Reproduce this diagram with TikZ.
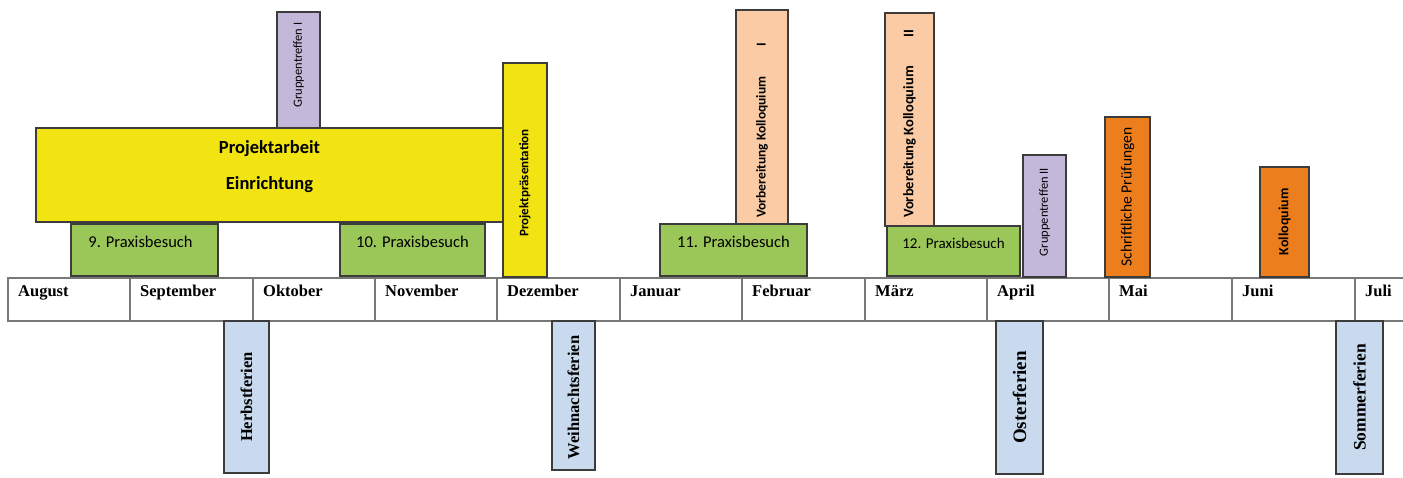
\documentclass[tikz,border=0pt]{standalone}
\usepackage{fontspec}
\setmainfont{Carlito}
\newfontfamily\tnr{Liberation Serif}
\definecolor{cYellow}{RGB}{242,228,18}
\definecolor{cGreen}{RGB}{155,199,89}
\definecolor{cPurple}{RGB}{196,184,218}
\definecolor{cPeach}{RGB}{250,203,164}
\definecolor{cOrange}{RGB}{236,126,30}
\definecolor{cBlue}{RGB}{201,218,238}
\definecolor{cLine}{RGB}{60,60,60}
\definecolor{cGrid}{RGB}{120,120,120}
\tikzset{
  box/.style={draw=cLine, line width=1.4pt, inner sep=0pt, outer sep=0pt, anchor=north west},
  cell/.style={draw=cGrid, line width=1.3pt, fill=white, inner sep=0pt, outer sep=0pt, anchor=north west},
  month/.style={font=\tnr\bfseries\fontsize{16.5}{17}\selectfont, anchor=base west, inner sep=0pt},
  vtext/.style={rotate=90, inner sep=0pt},
  ferien/.style={vtext, font=\tnr\bfseries\fontsize{16.5}{17}\selectfont},
  htext/.style={anchor=base, inner sep=0pt}
}
% \mybox{style}{name}{x1}{y1}{x2}{y2}{fill}
\newcommand\mybox[7]{\node[#1, fill=#7, minimum width={(#5-#3)*1pt}, minimum height={(#6-#4)*1pt}] (#2) at (#3,#4) {};}
\begin{document}
\begin{tikzpicture}[x=1pt,y=-1pt]
\useasboundingbox (0,0) rectangle (1403,477);
% month row
\mybox{cell}{m1}{8}{278}{130}{321}{white}
\mybox{cell}{m2}{130}{278}{253}{321}{white}
\mybox{cell}{m3}{253}{278}{375}{321}{white}
\mybox{cell}{m4}{375}{278}{497}{321}{white}
\mybox{cell}{m5}{497}{278}{620}{321}{white}
\mybox{cell}{m6}{620}{278}{742}{321}{white}
\mybox{cell}{m7}{742}{278}{865}{321}{white}
\mybox{cell}{m8}{865}{278}{987}{321}{white}
\mybox{cell}{m9}{987}{278}{1109}{321}{white}
\mybox{cell}{m10}{1109}{278}{1232}{321}{white}
\mybox{cell}{m11}{1232}{278}{1355}{321}{white}
\mybox{cell}{m12}{1355}{278}{1480}{321}{white}
\node[month] (t1) at ([xshift=10pt,yshift=-18pt]m1.north west) {August};
\node[month] (t2) at ([xshift=10pt,yshift=-18pt]m2.north west) {September};
\node[month] (t3) at ([xshift=10pt,yshift=-18pt]m3.north west) {Oktober};
\node[month] (t4) at ([xshift=10pt,yshift=-18pt]m4.north west) {November};
\node[month] (t5) at ([xshift=10pt,yshift=-18pt]m5.north west) {Dezember};
\node[month] (t6) at ([xshift=10pt,yshift=-18pt]m6.north west) {Januar};
\node[month] (t7) at ([xshift=10pt,yshift=-18pt]m7.north west) {Februar};
\node[month] (t8) at ([xshift=10pt,yshift=-18pt]m8.north west) {März};
\node[month] (t9) at ([xshift=10pt,yshift=-18pt]m9.north west) {April};
\node[month] (t10) at ([xshift=10pt,yshift=-18pt]m10.north west) {Mai};
\node[month] (t11) at ([xshift=10pt,yshift=-18pt]m11.north west) {Juni};
\node[month] (t12) at ([xshift=10pt,yshift=-18pt]m12.north west) {Juli};
% upper boxes
\mybox{box}{pa}{36}{128}{503}{222}{cYellow}
\node[htext, font=\bfseries\fontsize{18.5}{20}\selectfont] (paT1) at ([yshift=22pt]pa.center) {Projektarbeit};
\node[htext, font=\bfseries\fontsize{18.5}{20}\selectfont] (paT2) at ([yshift=-14pt]pa.center) {Einrichtung};
\mybox{box}{gt1}{277}{12}{320}{128}{cPurple}
\node[vtext, font=\fontsize{12.5}{13}\selectfont] (gt1T) at ([yshift=5pt]gt1.center) {Gruppentreffen I};
\mybox{box}{pp}{503}{63}{547}{277}{cYellow}
\node[vtext, font=\bfseries\fontsize{13}{14}\selectfont] (ppT) at ([yshift=-13pt]pp.center) {Projektpräsentation};
\mybox{box}{p9}{71}{224}{218}{276}{cGreen}
\node[htext, font=\fontsize{16.5}{18}\selectfont] (p9T) at ([xshift=-4pt,yshift=3pt]p9.center) {9. Praxisbesuch};
\mybox{box}{p10}{340}{224}{485}{276}{cGreen}
\node[htext, font=\fontsize{16.5}{18}\selectfont] (p10T) at ([yshift=3pt]p10.center) {10. Praxisbesuch};
\mybox{box}{p11}{660}{224}{807}{276}{cGreen}
\node[htext, font=\fontsize{16.5}{18}\selectfont] (p11T) at ([yshift=3pt]p11.center) {11. Praxisbesuch};
\mybox{box}{vk1}{736}{10}{788}{224}{cPeach}
\node[vtext, anchor=west, font=\bfseries\fontsize{13.5}{14}\selectfont] (vk1T) at ([yshift=6pt]vk1.south) {Vorbereitung Kolloquium\hspace{2.2em}I};
\mybox{box}{p12}{887}{226}{1020}{276}{cGreen}
\node[htext, font=\fontsize{15}{16}\selectfont] (p12T) at ([yshift=3pt]p12.center) {12. Praxisbesuch};
\mybox{box}{vk2}{885}{13}{934}{226}{cPeach}
\node[vtext, anchor=west, font=\bfseries\fontsize{14.5}{15}\selectfont] (vk2T) at ([yshift=8pt]vk2.south) {Vorbereitung Kolloquium\hspace{2em}II};
\mybox{box}{gt2}{1023}{155}{1066}{277}{cPurple}
\node[vtext, font=\fontsize{12.5}{13}\selectfont] (gt2T) at ([yshift=4pt]gt2.center) {Gruppentreffen II};
\mybox{box}{sp}{1105}{117}{1150}{277}{cOrange}
\node[vtext, font=\fontsize{15.5}{16}\selectfont] (spT) at (sp.center) {Schriftliche Prüfungen};
\mybox{box}{ko}{1260}{167}{1309}{277}{cOrange}
\node[vtext, font=\bfseries\fontsize{14}{15}\selectfont] (koT) at (ko.center) {Kolloquium};
% lower boxes (holidays)
\mybox{box}{hf}{224}{321}{269}{473}{cBlue}
\node[ferien] (hfT) at (hf.center) {Herbstferien};
\mybox{box}{wf}{552}{321}{595}{470}{cBlue}
\node[ferien] (wfT) at ([yshift=-2pt]wf.center) {Weihnachtsferien};
\mybox{box}{of}{996}{321}{1043}{474}{cBlue}
\node[ferien, font=\tnr\bfseries\fontsize{19}{20}\selectfont] (ofT) at (of.center) {Osterferien};
\mybox{box}{sf}{1336}{321}{1383}{474}{cBlue}
\node[ferien, font=\tnr\bfseries\fontsize{17.5}{18}\selectfont] (sfT) at (sf.center) {Sommerferien};
\end{tikzpicture}
\end{document}
